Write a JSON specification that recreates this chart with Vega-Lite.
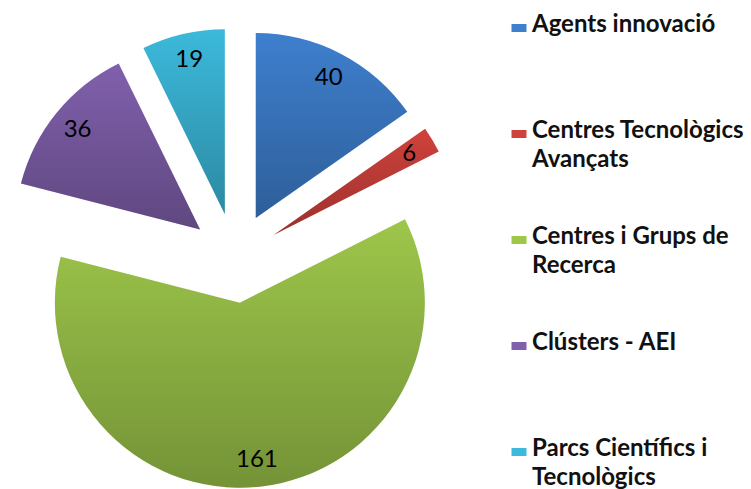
{
  "$schema": "https://vega.github.io/schema/vega-lite/v6.json",
  "width": 470,
  "height": 516,
  "padding": 0,
  "background": "white",
  "config": {"view": {"stroke": null}},
  "data": {"values": [
    {"categoria": "Agents innovació", "valor": 40},
    {"categoria": "Centres Tecnològics Avançats", "valor": 6},
    {"categoria": "Centres i Grups de Recerca", "valor": 161},
    {"categoria": "Clústers - AEI", "valor": 36},
    {"categoria": "Parcs Científics i Tecnològics", "valor": 19}
  ]},
  "transform": [
    {"joinaggregate": [{"op": "sum", "field": "valor", "as": "total"}]},
    {"window": [{"op": "sum", "field": "valor", "as": "acum"}], "frame": [null, 0]},
    {"calculate": "2*PI*(datum.acum-datum.valor)/datum.total", "as": "a0"},
    {"calculate": "2*PI*datum.acum/datum.total", "as": "a1"},
    {"calculate": "(datum.a0+datum.a1)/2", "as": "mid"},
    {"calculate": "235+45*sin(datum.mid)", "as": "cx"},
    {"calculate": "258-45*cos(datum.mid)", "as": "cy"},
    {"calculate": "235+203*sin(datum.mid)", "as": "lx"},
    {"calculate": "258-203*cos(datum.mid)", "as": "ly"}
  ],
  "layer": [
    {
      "mark": {"type": "arc", "radius": 185},
      "encoding": {
        "theta": {"field": "a0", "type": "quantitative", "scale": null},
        "theta2": {"field": "a1"},
        "x": {"field": "cx", "type": "quantitative", "scale": null, "axis": null},
        "y": {"field": "cy", "type": "quantitative", "scale": null, "axis": null},
        "color": {
          "field": "categoria",
          "type": "nominal",
          "scale": {
            "domain": ["Agents innovació", "Centres Tecnològics Avançats", "Centres i Grups de Recerca", "Clústers - AEI", "Parcs Científics i Tecnològics"],
            "range": ["#3E7FCE", "#D0423C", "#9DC64A", "#8060AC", "#3CB9DB"]
          },
          "legend": {
            "title": null,
            "orient": "none",
            "legendX": 507,
            "legendY": 16,
            "symbolType": "M-1,-0.53H1V0.53H-1Z",
            "symbolSize": 225,
            "symbolStrokeWidth": 0,
            "symbolOpacity": 1,
            "labelFont": "Lato",
            "labelFontSize": 24,
            "labelFontWeight": "bold",
            "labelColor": "#111111",
            "labelLimit": 300,
            "labelOffset": 1,
            "labelBaseline": "alphabetic",
            "gridAlign": "all",
            "rowPadding": 53,
            "labelExpr": "length(datum.label) > 18 ? [substring(datum.label, 0, lastindexof(datum.label, ' ')), substring(datum.label, lastindexof(datum.label, ' ') + 1)] : datum.label",
            "encode": {"labels": {"update": {"lineHeight": {"value": 29}, "dy": {"value": 4}}}}
          }
        }
      }
    },
    {
      "mark": {
        "type": "arc",
        "radius": 185,
        "color": {
          "gradient": "linear", "x1": 0, "y1": 0, "x2": 0, "y2": 1,
          "stops": [{"offset": 0, "color": "rgba(0,0,0,0)"}, {"offset": 1, "color": "rgba(0,0,0,0.26)"}]
        }
      },
      "encoding": {
        "theta": {"field": "a0", "type": "quantitative", "scale": null},
        "theta2": {"field": "a1"},
        "x": {"field": "cx", "type": "quantitative", "scale": null, "axis": null},
        "y": {"field": "cy", "type": "quantitative", "scale": null, "axis": null}
      }
    },
    {
      "mark": {"type": "text", "font": "Lato", "fontSize": 24, "color": "#000000", "align": "center", "baseline": "middle"},
      "encoding": {
        "x": {"field": "lx", "type": "quantitative", "scale": null, "axis": null},
        "y": {"field": "ly", "type": "quantitative", "scale": null, "axis": null},
        "text": {"field": "valor", "type": "quantitative"}
      }
    }
  ]
}
